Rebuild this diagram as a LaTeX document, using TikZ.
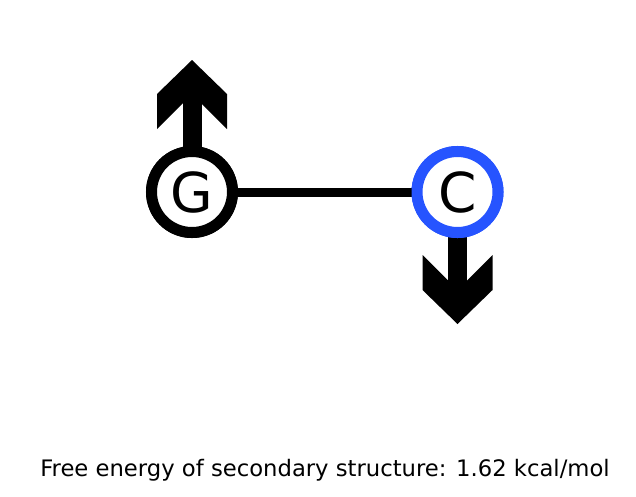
\documentclass[tikz,border=0pt]{standalone}
\usepackage{fontspec}
\setmainfont{DejaVu Sans}
\definecolor{cblue}{RGB}{38,84,255}
\begin{document}
\begin{tikzpicture}[x=1pt,y=-1pt,
  base/.style={circle,minimum size=81pt,inner sep=0pt,line width=11pt,fill=white,font=\fontsize{55}{60}\selectfont},
  bond/.style={line width=9pt,black},
  shaft/.style={line width=19pt,black},
  label/.style={font=\fontsize{22.7}{26}\selectfont,inner sep=0pt,anchor=base}]
\useasboundingbox (0,0) rectangle (636,496);
% arrows (behind bases)
\coordinate (Gtip) at (192,60);
\coordinate (Ctip) at (457.5,324);
\draw[shaft] (192,192) -- (192,88);
\fill (Gtip) -- ++(35,34) -- ++(0,35) -- ++(-35,-35) -- ++(-35,35) -- ++(0,-35) -- cycle;
\draw[shaft] (457.5,192) -- (457.5,296);
\fill (Ctip) -- ++(35,-34) -- ++(0,-35) -- ++(-35,35) -- ++(-35,-35) -- ++(0,35) -- cycle;
% bases
\node[base,draw=black] (G) at (192,192) {};
\node[base,draw=cblue] (C) at (457.5,192) {};
\draw[bond] (G) -- (C);
\node[base,draw=black] at (G) {G};
\node[base,draw=cblue] at (C) {C};
\node[label] (fe) at (325,476.5) {Free energy of secondary structure: 1.62 kcal/mol};
\end{tikzpicture}
\end{document}
